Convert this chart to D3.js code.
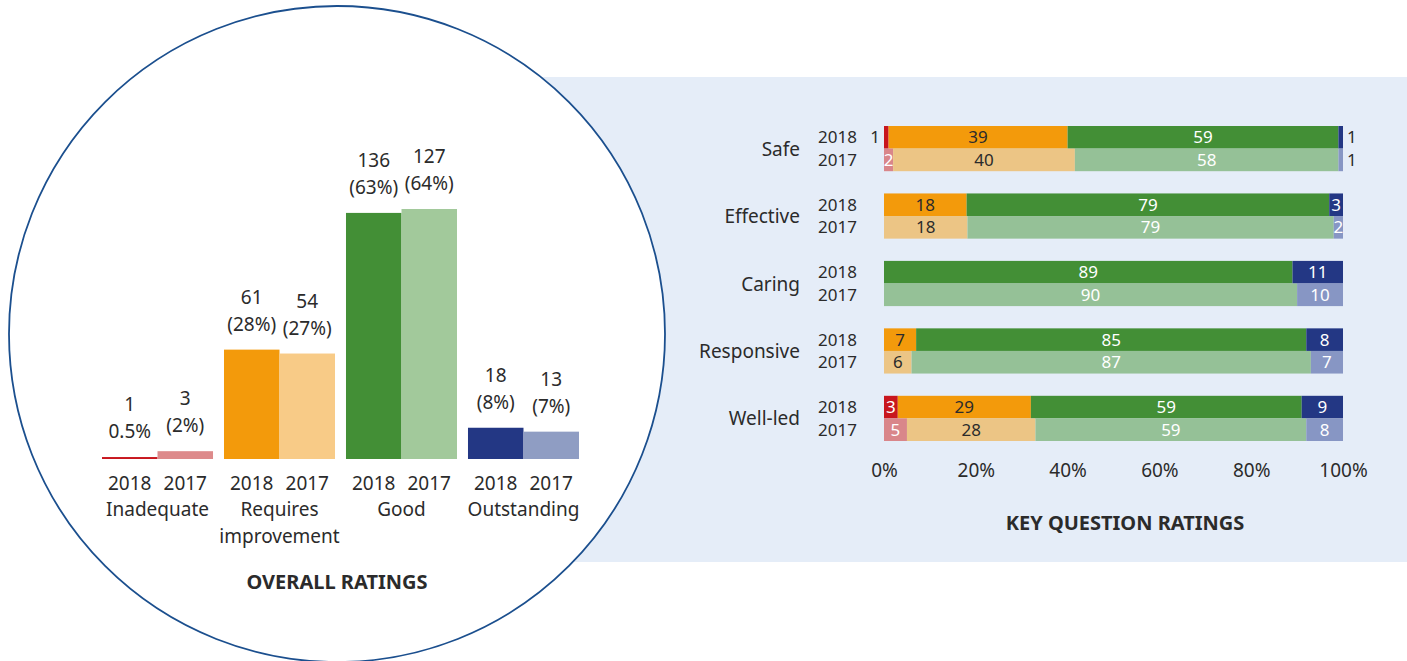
<!DOCTYPE html>
<html>
<head>
<meta charset="utf-8">
<script src="https://cdn.jsdelivr.net/npm/d3@7"></script>
<style>
  body { margin: 0; background: #fff; }
  svg { display: block; font-family: "Noto Sans", sans-serif; }
</style>
</head>
<body>
<svg width="1407" height="661"></svg>
<script>

// Overall ratings (left, inside the circle)
var overallCategories = ["Inadequate", "Requires improvement", "Good", "Outstanding"];
var overallYears = ["2018", "2017"];
var overallCounts2018 = [1, 61, 136, 18];
var overallCounts2017 = [3, 54, 127, 13];
var overallPct2018 = [0.5, 28, 63, 8];
var overallPct2017 = [2, 27, 64, 7];
var overallPctLabels2018 = ["0.5%", "(28%)", "(63%)", "(8%)"];
var overallPctLabels2017 = ["(2%)", "(27%)", "(64%)", "(7%)"];

// Key question ratings (right panel), order: inadequate, requires improvement, good, outstanding
var keyQuestions = ["Safe", "Effective", "Caring", "Responsive", "Well-led"];
var ratingKeys = [0, 1, 2, 3];
var key2018 = [[1, 39, 59, 1], [0, 18, 79, 3], [0, 0, 89, 11], [0, 7, 85, 8], [3, 29, 59, 9]];
var key2017 = [[2, 40, 58, 1], [0, 18, 79, 2], [0, 0, 90, 10], [0, 6, 87, 7], [5, 28, 59, 8]];
var axisTicks = [0, 20, 40, 60, 80, 100];

var colors2018 = ["#c8161e", "#f39a0b", "#438f36", "#233784"];
var colors2017Left = ["#dd8a8b", "#f8cb87", "#a2c99b", "#8f9dc3"];
var colors2017Right = ["#d9868a", "#ecc585", "#95c197", "#8796c4"];
var textDark = "#2b2b2b";

var svg = d3.select("svg"),
    width = +svg.attr("width"),
    height = +svg.attr("height");

// background panel + circle
svg.append("rect")
    .attr("x", 480).attr("y", 77)
    .attr("width", width - 480).attr("height", 485)
    .attr("fill", "#e5edf8");

svg.append("circle")
    .attr("cx", 337).attr("cy", 334).attr("r", 328)
    .attr("fill", "#fff")
    .attr("stroke", "#1b4f8e")
    .attr("stroke-width", 1.8);

// ---------- left chart ----------
var x0 = d3.scaleBand()
    .domain(overallCategories)
    .range([102, 579])
    .paddingInner(0.09);

var x1 = d3.scaleBand()
    .domain(overallYears)
    .range([0, x0.bandwidth()]);

var y = d3.scaleLinear()
    .domain([0, 64])
    .range([459, 209]);

var overallRows = overallCategories.map(function (c, i) {
    return {
        cat: c,
        bars: [
            { year: "2018", count: overallCounts2018[i], pct: overallPct2018[i], label: overallPctLabels2018[i], color: colors2018[i] },
            { year: "2017", count: overallCounts2017[i], pct: overallPct2017[i], label: overallPctLabels2017[i], color: colors2017Left[i] }
        ]
    };
});

var group = svg.append("g")
    .selectAll("g")
    .data(overallRows)
    .enter()
    .append("g")
    .attr("transform", function (d) { return "translate(" + x0(d.cat) + ",0)"; });

group.selectAll("rect")
    .data(function (d) { return d.bars; })
    .enter()
    .append("rect")
    .attr("x", function (d) { return x1(d.year); })
    .attr("y", function (d) { return y(d.pct); })
    .attr("width", x1.bandwidth())
    .attr("height", function (d) { return y(0) - y(d.pct); })
    .attr("fill", function (d) { return d.color; });

// value labels (count + percent)
var vlab = group.selectAll("text.val")
    .data(function (d) { return d.bars; })
    .enter()
    .append("text")
    .attr("class", "val")
    .attr("text-anchor", "middle")
    .attr("font-size", 19)
    .attr("fill", textDark);

vlab.append("tspan")
    .attr("x", function (d) { return x1(d.year) + x1.bandwidth() / 2; })
    .attr("y", function (d) { return y(d.pct) - 46; })
    .text(function (d) { return d.count; });

vlab.append("tspan")
    .attr("x", function (d) { return x1(d.year) + x1.bandwidth() / 2; })
    .attr("y", function (d) { return y(d.pct) - 19; })
    .text(function (d) { return d.label; });

// year ticks
group.selectAll("text.year")
    .data(function (d) { return d.bars; })
    .enter()
    .append("text")
    .attr("class", "year")
    .attr("x", function (d) { return x1(d.year) + x1.bandwidth() / 2; })
    .attr("y", 490)
    .attr("text-anchor", "middle")
    .attr("font-size", 19)
    .attr("fill", textDark)
    .text(function (d) { return d.year; });

// category names (wrapped on space for the long one)
group.append("text")
    .attr("text-anchor", "middle")
    .attr("font-size", 19)
    .attr("fill", textDark)
    .selectAll("tspan")
    .data(function (d) {
        return d.cat === "Requires improvement" ? ["Requires", "improvement"] : [d.cat];
    })
    .enter()
    .append("tspan")
    .attr("x", x0.bandwidth() / 2)
    .attr("y", function (d, i) { return 516 + i * 27; })
    .text(function (d) { return d; });

svg.append("text")
    .attr("x", 337).attr("y", 589)
    .attr("text-anchor", "middle")
    .attr("font-size", 20)
    .attr("font-weight", "bold")
    .attr("fill", textDark)
    .text("OVERALL RATINGS");

// ---------- right chart ----------
var xk = d3.scaleLinear()
    .domain([0, 1])
    .range([884, 1343]);

var yk = d3.scaleBand()
    .domain(keyQuestions)
    .range([126, 441])
    .paddingInner(0.33);

var yy = d3.scaleBand()
    .domain(overallYears)
    .range([0, yk.bandwidth()]);

var stack = d3.stack()
    .keys(ratingKeys)
    .offset(d3.stackOffsetExpand);

var rows = [];
keyQuestions.forEach(function (q, i) {
    rows.push({ q: q, year: "2018", vals: key2018[i], colors: colors2018 });
    rows.push({ q: q, year: "2017", vals: key2017[i], colors: colors2017Right });
});

var rowG = svg.append("g")
    .selectAll("g")
    .data(rows)
    .enter()
    .append("g")
    .attr("transform", function (d) { return "translate(0," + (yk(d.q) + yy(d.year)) + ")"; });

rowG.each(function (row) {
    var series = stack([row.vals]);
    var segs = series.map(function (s, k) {
        return { k: k, v: row.vals[k], x0: s[0][0], x1: s[0][1], color: row.colors[k] };
    }).filter(function (s) { return s.v > 0; });

    var g = d3.select(this);

    g.selectAll("rect")
        .data(segs)
        .enter()
        .append("rect")
        .attr("x", function (d) { return xk(d.x0); })
        .attr("width", function (d) { return xk(d.x1) - xk(d.x0); })
        .attr("height", yy.bandwidth())
        .attr("fill", function (d) { return d.color; });

    g.selectAll("text")
        .data(segs)
        .enter()
        .append("text")
        .attr("y", yy.bandwidth() / 2 + 6)
        .attr("font-size", 17)
        .attr("text-anchor", function (d) {
            var w = xk(d.x1) - xk(d.x0);
            if (w >= 7) return "middle";
            return d.k === 0 ? "end" : "start";
        })
        .attr("x", function (d) {
            var w = xk(d.x1) - xk(d.x0);
            if (w >= 7) return (xk(d.x0) + xk(d.x1)) / 2;
            return d.k === 0 ? xk(d.x0) - 4 : xk(d.x1) + 4;
        })
        .attr("fill", function (d) {
            var w = xk(d.x1) - xk(d.x0);
            if (w < 7 || d.k === 1) return textDark;
            return "#fff";
        })
        .text(function (d) { return d.v; });
});

// year labels
rowG.append("text")
    .attr("x", 857)
    .attr("y", yy.bandwidth() / 2 + 6)
    .attr("text-anchor", "end")
    .attr("font-size", 17)
    .attr("fill", textDark)
    .text(function (d) { return d.year; });

// question labels
svg.append("g")
    .selectAll("text")
    .data(keyQuestions)
    .enter()
    .append("text")
    .attr("x", 800)
    .attr("y", function (d) { return yk(d) + yk.bandwidth() / 2 + 7; })
    .attr("text-anchor", "end")
    .attr("font-size", 19)
    .attr("fill", textDark)
    .text(function (d) { return d; });

// x axis ticks
var xAxis = d3.axisBottom(xk)
    .tickValues(axisTicks.map(function (t) { return t / 100; }))
    .tickFormat(function (d) { return Math.round(d * 100) + "%"; })
    .tickSize(0)
    .tickPadding(0);

var ax = svg.append("g")
    .attr("transform", "translate(0,463)")
    .call(xAxis);
ax.select(".domain").remove();
ax.selectAll("text")
    .attr("font-family", "Noto Sans, sans-serif")
    .attr("font-size", 19)
    .attr("fill", textDark);

svg.append("text")
    .attr("x", 1125).attr("y", 530)
    .attr("text-anchor", "middle")
    .attr("font-size", 20)
    .attr("font-weight", "bold")
    .attr("fill", textDark)
    .text("KEY QUESTION RATINGS");

</script>
</body>
</html>
